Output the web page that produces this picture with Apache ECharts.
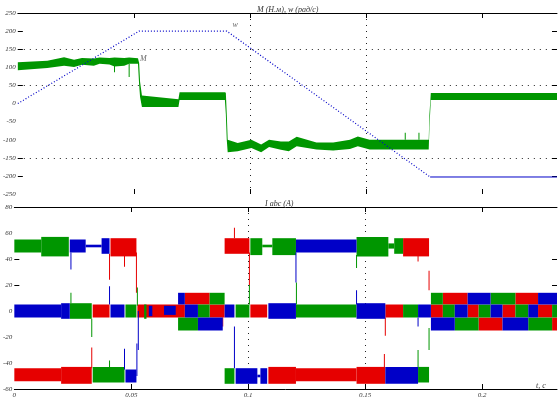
<!DOCTYPE html>
<html>
<head>
<meta charset="utf-8">
<script src="https://cdn.jsdelivr.net/npm/echarts@6/dist/echarts.min.js"></script>
<style>
html, body { margin: 0; padding: 0; background: #fff; }
#chart { width: 560px; height: 399px; }
</style>
</head>
<body>
<div id="chart"></div>
<script>
// time axis (s)
const tMax = 0.232;
const tLabels = [0, 0.05, 0.1, 0.15, 0.2];
const tGrid = [0.05, 0.1, 0.15, 0.2];

// levels that carry a dotted grid line
const topGrid = [200, 150, 50, -150, -200];
const bottomGrid = [40, 20];

// torque M, noise envelope: [t, low, high]
const torqueBand = [
  [0, 92, 114], [0.0127, 98, 118], [0.0199, 104, 128], [0.0242, 101, 121],
  [0.0276, 107, 126], [0.0327, 104, 124], [0.0352, 110, 127], [0.0394, 108, 126],
  [0.0416, 102, 127], [0.0458, 104, 126], [0.0479, 110, 127], [0.0517, 110, 125],
  [0.0522, 52, 112], [0.0526, 18, 60], [0.0534, -10, 22], [0.0691, -10, 12],
  [0.0696, 10, 31], [0.0891, 10, 31], [0.0895, -29, 30], [0.0899, -100, -29],
  [0.0903, -135, -100], [0.0946, -132, -109], [0.1005, -123, -100], [0.1047, -135, -113],
  [0.1081, -120, -100], [0.1132, -128, -105], [0.1166, -132, -105], [0.1200, -118, -92],
  [0.1285, -127, -108], [0.1357, -130, -108], [0.1429, -126, -100], [0.1463, -118, -91],
  [0.1514, -127, -100], [0.1768, -127, -100], [0.1771, -67, -31], [0.1777, 10, 29],
  [0.232, 10, 29]
];
// single torque spikes: [t0, t1, low, high]
const torqueSpikes = [
  [0.0416, 0.0416, 86, 104], [0.0479, 0.0479, 73, 110],
  [0.1667, 0.1667, -100, -81], [0.1726, 0.1726, -100, -81]
];

// speed w: [t, value]
const speedRamp = [[0, 0], [0.0522, 200], [0.0899, 200], [0.1774, -203]];
const speedFlat = [[0.1774, -203], [0.232, -203]];

// curve labels
const markNames = ['M', 'w'];
const markPos = [[0.054, 122], [0.0935, 217]];

// phase currents, bands and spikes: [t0, t1, low, high]
const currentRed = [
  [0, 0.0200, -54, -44], [0.0200, 0.0331, -56, -43], [0.0335, 0.0407, -5, 5],
  [0.0411, 0.0522, 42, 56], [0.0526, 0.0729, -5, 5], [0.0729, 0.0835, 5, 14],
  [0.0835, 0.0899, -5, 5], [0.0899, 0.1005, 44, 56], [0.1009, 0.1081, -5, 5],
  [0.1086, 0.1204, -56, -43], [0.1204, 0.1463, -54, -44], [0.1463, 0.1586, -56, -43],
  [0.1586, 0.1662, -5, 5], [0.1662, 0.1773, 42, 56],
  [0.1781, 0.1832, -5, 5], [0.1832, 0.1938, 5, 14], [0.1938, 0.1985, -5, 5],
  [0.1985, 0.2087, -15, -5], [0.2087, 0.2142, -5, 5], [0.2142, 0.2239, 5, 14],
  [0.2239, 0.2299, -5, 5], [0.2299, 0.232, -15, -5],
  [0.0331, 0.0331, -44, -28], [0.0407, 0.0407, 24, 44], [0.0471, 0.0471, 34, 44],
  [0.0522, 0.0522, 14, 45], [0.0891, 0.0891, -12, -5], [0.0941, 0.0941, 56, 64],
  [0.1005, 0.1005, 20, 45], [0.1582, 0.1582, -44, -33], [0.1586, 0.1586, -19, -5],
  [0.1726, 0.1726, 38, 44], [0.1773, 0.1773, 16, 31]
];
const currentGreen = [
  [0, 0.0115, 45, 55], [0.0115, 0.0233, 42, 57], [0.0237, 0.0331, -6, 6],
  [0.0335, 0.0471, -55, -43], [0.0475, 0.0522, -5, 5], [0.0555, 0.0565, -6, 5],
  [0.0700, 0.0785, -15, -5], [0.0785, 0.0835, -5, 5], [0.0835, 0.0899, 5, 14],
  [0.0899, 0.0941, -56, -44], [0.0946, 0.1005, -5, 5], [0.1009, 0.1060, 43, 56],
  [0.1060, 0.1103, 49, 51], [0.1103, 0.1204, 43, 56], [0.1204, 0.1463, -5, 5],
  [0.1463, 0.1599, 42, 57], [0.1599, 0.1624, 48, 52], [0.1624, 0.1662, 44, 56],
  [0.1662, 0.1726, -5, 5], [0.1726, 0.1773, -55, -43],
  [0.1781, 0.1832, 5, 14], [0.1832, 0.1883, -5, 5], [0.1883, 0.1985, -15, -5],
  [0.1985, 0.2036, -5, 5], [0.2036, 0.2142, 5, 14], [0.2142, 0.2197, -5, 5],
  [0.2197, 0.2299, -15, -5], [0.2299, 0.232, -5, 5],
  [0.0242, 0.0242, 6, 14], [0.0331, 0.0331, -20, -6], [0.0407, 0.0407, -43, -38],
  [0.0526, 0.0526, 4, 18], [0.1005, 0.1005, 5, 20], [0.1206, 0.1206, 5, 22],
  [0.1463, 0.1463, 33, 43], [0.1726, 0.1726, -43, -30], [0.1773, 0.1773, -30, -13]
];
const currentBlue = [
  [0, 0.0200, -5, 5], [0.0200, 0.0237, -6, 6], [0.0237, 0.0305, 45, 55],
  [0.0305, 0.0373, 49, 51], [0.0373, 0.0407, 44, 56], [0.0411, 0.0471, -5, 5],
  [0.0475, 0.0522, -55, -45], [0.0575, 0.0590, -4, 4], [0.0640, 0.0690, -3, 4],
  [0.0700, 0.0729, 5, 14], [0.0729, 0.0785, -5, 5], [0.0785, 0.0891, -15, -5],
  [0.0899, 0.0941, -5, 5], [0.0946, 0.1039, -56, -44], [0.1039, 0.1052, -51, -49],
  [0.1052, 0.1081, -56, -44], [0.1086, 0.1204, -6, 6], [0.1204, 0.1463, 45, 55],
  [0.1463, 0.1586, -6, 6], [0.1586, 0.1726, -56, -43], [0.1726, 0.1781, -5, 5],
  [0.1781, 0.1883, -15, -5], [0.1883, 0.1938, -5, 5], [0.1938, 0.2036, 5, 14],
  [0.2036, 0.2087, -5, 5], [0.2087, 0.2197, -15, -5], [0.2197, 0.2239, -5, 5],
  [0.2239, 0.232, 5, 14],
  [0.0242, 0.0242, 32, 45], [0.0407, 0.0407, 5, 19], [0.0471, 0.0471, -45, -29],
  [0.0524, 0.0524, -50, -25], [0.0530, 0.0530, -30, 0], [0.0941, 0.0941, -44, -12],
  [0.1204, 0.1204, 22, 45], [0.1463, 0.1463, 5, 16], [0.1726, 0.1726, -12, -5]
];

const RED = '#e60000', GREEN = '#009600', BLUE = '#0000c8';
const FONT = 'Liberation Serif';

function segmentItem(params, api) {
  const a = api.coord([api.value(0), api.value(3)]);
  const b = api.coord([api.value(1), api.value(2)]);
  const w = b[0] - a[0];
  return {
    type: 'rect',
    shape: { x: w < 1 ? a[0] - 0.5 : a[0], y: a[1], width: Math.max(1, w), height: Math.max(1, b[1] - a[1]) },
    style: { fill: api.visual('color') }
  };
}

// whole envelope as one polygon, drawn once
function bandItem(params, api) {
  if (params.dataIndexInside !== 0) return null;
  const n = params.dataInsideLength;
  const pts = [];
  for (let i = 0; i < n; i++) pts.push(api.coord([api.value(0, i), api.value(2, i)]));
  for (let i = n - 1; i >= 0; i--) pts.push(api.coord([api.value(0, i), api.value(1, i)]));
  return { type: 'polygon', shape: { points: pts }, style: { fill: api.visual('color') } };
}

function segmentSeries(data, color, xi) {
  return {
    type: 'custom', xAxisIndex: xi, yAxisIndex: xi, data: data,
    renderItem: segmentItem, encode: { x: [0, 1], y: [2, 3] },
    itemStyle: { color: color }, silent: true
  };
}

const dotted = { color: '#222', width: 1, type: [1, 5] };

function timeAxis(gi, showLabels) {
  return {
    type: 'value', gridIndex: gi, min: 0, max: tMax, position: 'bottom',
    axisLine: { show: showLabels, onZero: false, lineStyle: { color: '#000', width: 1 } },
    axisTick: { show: true, inside: true, length: 5, customValues: tGrid, lineStyle: { color: '#000' } },
    axisLabel: {
      show: showLabels, customValues: tLabels, margin: 3,
      fontSize: 7, fontFamily: FONT, fontStyle: 'italic', color: '#333'
    },
    splitLine: { show: true, lineStyle: dotted, showMinLine: false, showMaxLine: false }
  };
}
function topAxis(gi) {
  return {
    type: 'value', gridIndex: gi, min: 0, max: tMax, position: 'top',
    axisLine: { show: true, onZero: false, lineStyle: { color: '#000', width: 1 } },
    axisTick: { show: true, inside: true, length: 5, customValues: tGrid, lineStyle: { color: '#000' } },
    axisLabel: { show: false }, splitLine: { show: false }
  };
}
function valueAxis(gi, min, max, step, grid, side) {
  return {
    type: 'value', gridIndex: gi, min: min, max: max, interval: step, position: side,
    axisLine: { show: false, onZero: false },
    axisTick: { show: true, inside: true, length: 5, customValues: grid, lineStyle: { color: '#000' } },
    axisLabel: {
      show: side === 'left', margin: 2, fontSize: 7, fontFamily: FONT,
      fontStyle: 'italic', color: '#333'
    },
    splitLine: { show: side === 'left', lineStyle: dotted, showMinLine: false, showMaxLine: false }
  };
}

const chart = echarts.init(document.getElementById('chart'));
chart.setOption({
  backgroundColor: '#fff',
  animation: false,
  title: [
    { text: 'M (Н.м), w (рад/с)', left: 252, top: 1 },
    { text: 'I abc (A)', left: 260, top: 195 },
    { text: 't, c', left: 531, top: 377 }
  ].map(t => Object.assign(t, {
    textStyle: { fontSize: 8, fontFamily: FONT, fontStyle: 'italic', fontWeight: 'normal', color: '#333' }
  })),
  grid: [
    { left: 10, right: 3, top: 13, height: 181 },
    { left: 10, right: 3, top: 207, height: 182 }
  ],
  xAxis: [timeAxis(0, false), timeAxis(1, true), topAxis(0), topAxis(1)],
  yAxis: [
    valueAxis(0, -250, 250, 50, topGrid, 'left'),
    valueAxis(1, -60, 80, 20, bottomGrid, 'left'),
    valueAxis(0, -250, 250, 50, topGrid, 'right'),
    valueAxis(1, -60, 80, 20, bottomGrid, 'right')
  ],
  series: [
    {
      type: 'custom', xAxisIndex: 0, yAxisIndex: 0, data: torqueBand,
      renderItem: bandItem, encode: { x: 0, y: [1, 2] },
      itemStyle: { color: GREEN }, silent: true
    },
    segmentSeries(torqueSpikes, GREEN, 0),
    {
      type: 'line', xAxisIndex: 0, yAxisIndex: 0, data: speedRamp, showSymbol: false,
      lineStyle: { color: BLUE, width: 1.2, type: [1, 2] }, silent: true
    },
    {
      type: 'line', xAxisIndex: 0, yAxisIndex: 0, data: speedFlat, showSymbol: false,
      lineStyle: { color: BLUE, width: 1 }, silent: true
    },
    {
      type: 'scatter', xAxisIndex: 0, yAxisIndex: 0, symbolSize: 0, silent: true,
      data: markNames.map((n, i) => ({ name: n, value: markPos[i] })),
      label: {
        show: true, formatter: '{b}', position: 'inside',
        fontSize: 8, fontFamily: FONT, fontStyle: 'italic', color: '#444'
      }
    },
    segmentSeries(currentRed, RED, 1),
    segmentSeries(currentGreen, GREEN, 1),
    segmentSeries(currentBlue, BLUE, 1)
  ]
});
</script>
</body>
</html>
